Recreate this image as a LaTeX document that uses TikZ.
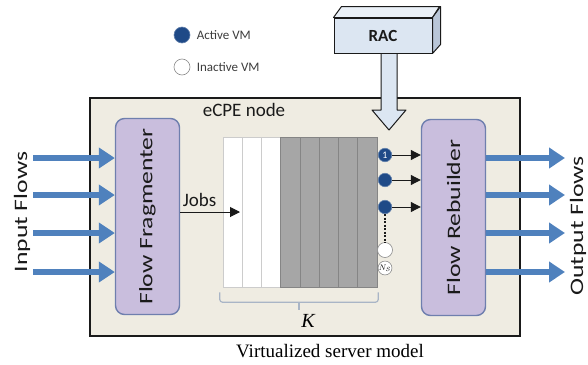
\documentclass[tikz,border=0pt]{standalone}
\usepackage{fontspec}
\usepackage{graphicx}
\setmainfont{Carlito}
\newfontfamily\timesfont{Liberation Serif}
\usetikzlibrary{arrows.meta,calc,positioning}
\definecolor{ink}{HTML}{1A1A1A}
\definecolor{shell}{HTML}{EFECE2}
\definecolor{lilac}{HTML}{C9BEDD}
\definecolor{lilacEdge}{HTML}{6F7FAE}
\definecolor{flow}{HTML}{4F81BD}
\definecolor{navy}{HTML}{1F4A87}
\definecolor{slot}{HTML}{A6A6A6}
\definecolor{racFace}{HTML}{DCE6F2}
\definecolor{racSide}{HTML}{B9C6D8}
\definecolor{bracketgray}{HTML}{A9B5C6}
\newcommand\flowstretch[1]{\scalebox{1.35}[1]{#1}}
\tikzset{
  shellbox/.style={draw=ink,line width=1.5pt,fill=shell,inner sep=0pt},
  blockbox/.style={draw=lilacEdge,line width=1.4pt,fill=lilac,rounded corners=9pt,inner sep=0pt,minimum width=64,minimum height=196},
  slotbox/.style={draw=#1!80!black,line width=0.6pt,fill=#1,minimum width=19.25,minimum height=150,inner sep=0pt},
  vm/.style={circle,draw=navy!70,fill=navy,line width=0.6pt,minimum size=13.5,inner sep=0pt},
  idlevm/.style={circle,draw=black!45,fill=white,line width=0.6pt,minimum size=15,inner sep=0pt},
  flowarrow/.style={-{Triangle[length=16pt,width=20pt]},line width=6pt,draw=flow},
  jobarrow/.style={-{Triangle[length=10pt,width=10pt]},line width=1pt,draw=ink},
  blockarrow/.style={draw=ink,line width=1pt,fill=racFace,line join=round},
  kbracket/.style={draw=bracketgray,line width=1.2pt},
  rotlabel/.style={rotate=90,font=\fontsize{19}{19}\selectfont,inner sep=0pt,text=ink},
  keytext/.style={font=\fontsize{13}{13}\selectfont,text=ink!85}
}
\begin{document}
\begin{tikzpicture}[x=1pt,y=-1pt]
  \useasboundingbox (0,0) rectangle (588,364);
  \node[shellbox,minimum width=430,minimum height=238] (ecpe) at (305,217) {};
  \node[font=\fontsize{19}{19}\selectfont,text=ink] (ecpelbl) at (244,110) {eCPE node};

  \node[vm,minimum size=16] (actkey) at (182,35) {};
  \node[keytext,right=3pt of actkey] (acttxt) {Active VM};
  \node[idlevm,minimum size=16] (idlekey) at (182,67) {};
  \node[keytext,right=3pt of idlekey] (idletxt) {Inactive VM};

  \node[blockbox] (frag) at (147.5,216.5) {};
  \node[rotlabel] (fraglbl) at (frag) {\flowstretch{Flow Fragmenter}};
  \node[blockbox] (reb) at (453.5,217.5) {};
  \node[rotlabel] (reblbl) at (reb) {\flowstretch{Flow Rebuilder}};

  \foreach \i/\c in {1/white,2/white,3/white,4/slot,5/slot,6/slot,7/slot,8/slot}
    \node[slotbox=\c] (q\i) at ({223+19.25*(\i-0.5)},212) {};

  \node[vm,text=white,font=\fontsize{10}{10}\selectfont] (vm1) at (385,155) {1};
  \node[vm] (vm2) at (385,180) {};
  \node[vm] (vm3) at (385,207) {};
  \node[idlevm] (vmk) at (385,250) {};
  \node[idlevm,minimum size=13] (vmn) at (385,268) {\fontsize{8}{8}\selectfont$N_S$};
  \draw[ink,line width=1.5pt,dash pattern=on 2pt off 1.5pt] (vm3) -- (vmk);
  \foreach \v in {vm1,vm2,vm3}
    \draw[jobarrow] (\v) -- (\v -| reb.west);

  \coordinate (jobtip) at (240,212);
  \draw[jobarrow] (frag.east |- jobtip) -- (jobtip);
  \node[font=\fontsize{19}{19}\selectfont,text=ink] (jobs) at (199.5,200) {Jobs};

  \coordinate (bl) at ($(q1.south west)+(-3,5)$);
  \coordinate (br) at ($(q8.south east)+(1,5)$);
  \draw[kbracket,rounded corners=3pt] (bl) -- ++(0,10) -| (br);
  \draw[kbracket] ($(bl)!0.5!(br)+(0,10)$) -- ++(0,8);
  \node[font=\timesfont\itshape\fontsize{20}{20}\selectfont] (klbl) at (308,321) {K};

  \foreach \y [count=\k] in {158,195,233,272} {
    \coordinate (in\k) at (33,\y);
    \draw[flowarrow] (in\k) -- (in\k -| frag.west);
    \coordinate (out\k) at (565,\y);
    \draw[flowarrow] (out\k -| reb.east) -- (out\k);
  }
  \node[rotlabel] (inlbl) at (22,212) {\flowstretch{Input Flows}};
  \node[rotlabel] (outlbl) at (578,226) {\flowstretch{Output Flows}};

  \coordinate (racdrop) at (389,53);
  \draw[blockarrow] ($(racdrop)+(-8,0)$) -- ++(0,57) -- ++(-9,0) -- ($(racdrop)+(0,77)$)
    -- ($(racdrop)+(17,57)$) -- ++(-9,0) -- ($(racdrop)+(8,0)$);
  \node[draw=ink,line width=1pt,fill=racFace,minimum width=98,minimum height=35,inner sep=0pt,
    font=\bfseries\fontsize{17}{17}\selectfont,text=ink] (rac) at (383,35.5) {RAC};
  \draw[blockarrow,fill=racFace!60!white] (rac.north west) -- ++(8,-11) -- ++(98,0) -- (rac.north east) -- cycle;
  \draw[blockarrow,fill=racSide] (rac.north east) -- ++(8,-11) -- ++(0,38) -- (rac.south east) -- cycle;

  \node[font=\timesfont\fontsize{19}{19}\selectfont] (caption) at (330,351) {Virtualized server model};
\end{tikzpicture}
\end{document}
